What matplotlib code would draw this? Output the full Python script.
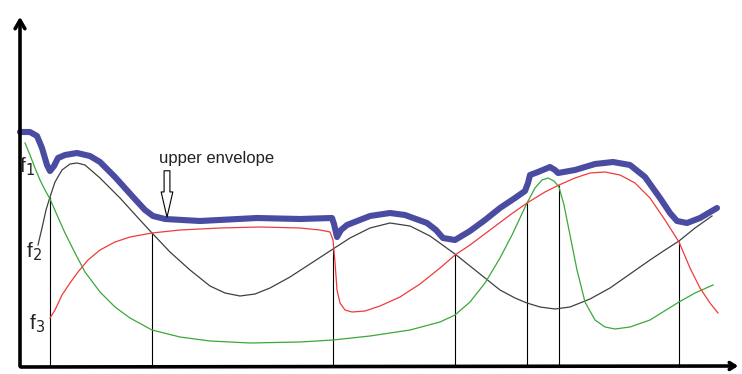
import numpy as np
import matplotlib
matplotlib.use("Agg")
import matplotlib.pyplot as plt

# curves (x, y in picture units, y grows downwards)
black_x = [38, 42, 46, 50, 55, 62, 70, 77, 85, 100, 120, 140, 152, 170, 190, 210, 225, 240, 255, 270,
           290, 310, 333, 350, 370, 390, 410, 430, 455, 470, 485, 500, 515, 527, 540, 555, 570, 590,
           610, 630, 650, 665, 679, 695, 712]
black_y = [245, 228, 210, 197, 182, 170, 164, 163, 165, 178, 198, 220, 233, 252, 270, 286, 293, 296, 294, 288,
           277, 264, 249, 238, 228, 223, 226, 236, 254, 266, 278, 290, 298, 303, 307, 309, 307, 299,
           288, 274, 260, 250, 241, 228, 216]

green_x = [25, 30, 35, 40, 45, 50, 57, 65, 75, 85, 100, 115, 130, 152, 180, 210, 250, 300, 333, 370,
           410, 440, 455, 470, 485, 500, 512, 520, 527, 535, 542, 548, 554, 559, 564, 570, 577, 585,
           595, 605, 615, 630, 650, 679, 695, 713]
green_y = [143, 155, 168, 180, 190, 199, 215, 233, 253, 272, 292, 307, 318, 330, 337, 341, 343, 342, 340, 336,
           330, 322, 315, 302, 283, 258, 235, 218, 203, 188, 180, 178, 181, 187, 205, 235, 270, 302,
           320, 327, 329, 327, 320, 302, 293, 285]

red_x = [50, 55, 62, 70, 78, 88, 100, 115, 130, 152, 180, 220, 260, 300, 320, 330, 333, 335, 337, 340,
         345, 352, 365, 380, 400, 420, 440, 455, 470, 490, 510, 527, 545, 559, 575, 590, 605, 620,
         635, 650, 665, 679, 690, 700, 710, 718]
red_y = [318, 310, 295, 283, 272, 260, 250, 242, 237, 233, 230, 228, 227, 228, 230, 232, 240, 262, 290, 303,
         310, 312, 311, 306, 297, 284, 268, 255, 245, 230, 215, 203, 192, 185, 178, 173, 172, 175,
         183, 198, 220, 242, 268, 288, 303, 313]

env_x = [20, 30, 37, 42, 47, 50, 54, 58, 65, 77, 90, 100, 115, 133, 145, 153, 165, 200, 257, 300,
         332, 334, 337, 341, 347, 370, 390, 405, 427, 436, 443, 455, 470, 485, 500, 515, 525, 528,
         530, 538, 550, 555, 558, 575, 595, 613, 630, 645, 660, 670, 677, 687, 700, 717]
env_y = [132, 132, 136, 148, 165, 171, 166, 158, 155, 153, 156, 162, 177, 197, 210, 216, 219, 221, 218, 219,
         218, 224, 237, 230, 225, 216, 213, 215, 223, 230, 238, 240, 231, 220, 208, 198, 191, 183,
         175, 172, 167, 170, 173, 170, 164, 162, 165, 177, 198, 213, 221, 223, 218, 208]

# crossing points dropped to the x axis
cross_x = [50, 152, 333, 455, 527, 559, 679]
cross_y = [197, 233, 249, 254, 203, 185, 241]

fig = plt.figure(figsize=(7.42, 3.74), dpi=100)
ax = fig.add_axes([0, 0, 1, 1])
ax.set_xlim(0, 742)
ax.set_ylim(374, 0)
ax.axis('off')

# axes with arrow heads
ax.annotate('', xy=(20, 14), xytext=(20, 369),
            arrowprops=dict(arrowstyle='->,head_width=0.35,head_length=0.6', lw=2.6, color='black'))
ax.annotate('', xy=(741, 366), xytext=(18, 367),
            arrowprops=dict(arrowstyle='->,head_width=0.25,head_length=0.4', lw=2.6, color='black'))

ax.vlines(cross_x, cross_y, 367, color='black', lw=0.8)

ax.plot(black_x, black_y, color='#404040', lw=0.9)
ax.plot(green_x, green_y, color='#3aa83a', lw=0.9)
ax.plot(red_x, red_y, color='#f03a3a', lw=0.9)
ax.plot(env_x, env_y, color='#4a4ca2', lw=4.4, solid_capstyle='round', solid_joinstyle='round')

# labels
ax.text(19, 167, 'f$_1$', fontsize=15, family='Liberation Sans', va='center', ha='left', color='#222222')
ax.text(26, 252, 'f$_2$', fontsize=15, family='Liberation Sans', va='center', ha='left', color='#222222')
ax.text(29, 324, 'f$_3$', fontsize=15, family='Liberation Sans', va='center', ha='left', color='#222222')

ax.text(159, 158, 'upper envelope', fontsize=12, family='Liberation Sans', va='center', ha='left',
        color='#222222')
ax.annotate('', xy=(167, 220), xytext=(167, 168),
            arrowprops=dict(arrowstyle='simple,head_width=0.6,head_length=1.3,tail_width=0.3',
                            mutation_scale=14, fc='white', ec='black', lw=0.8))

fig.savefig('out.png', dpi=100)
